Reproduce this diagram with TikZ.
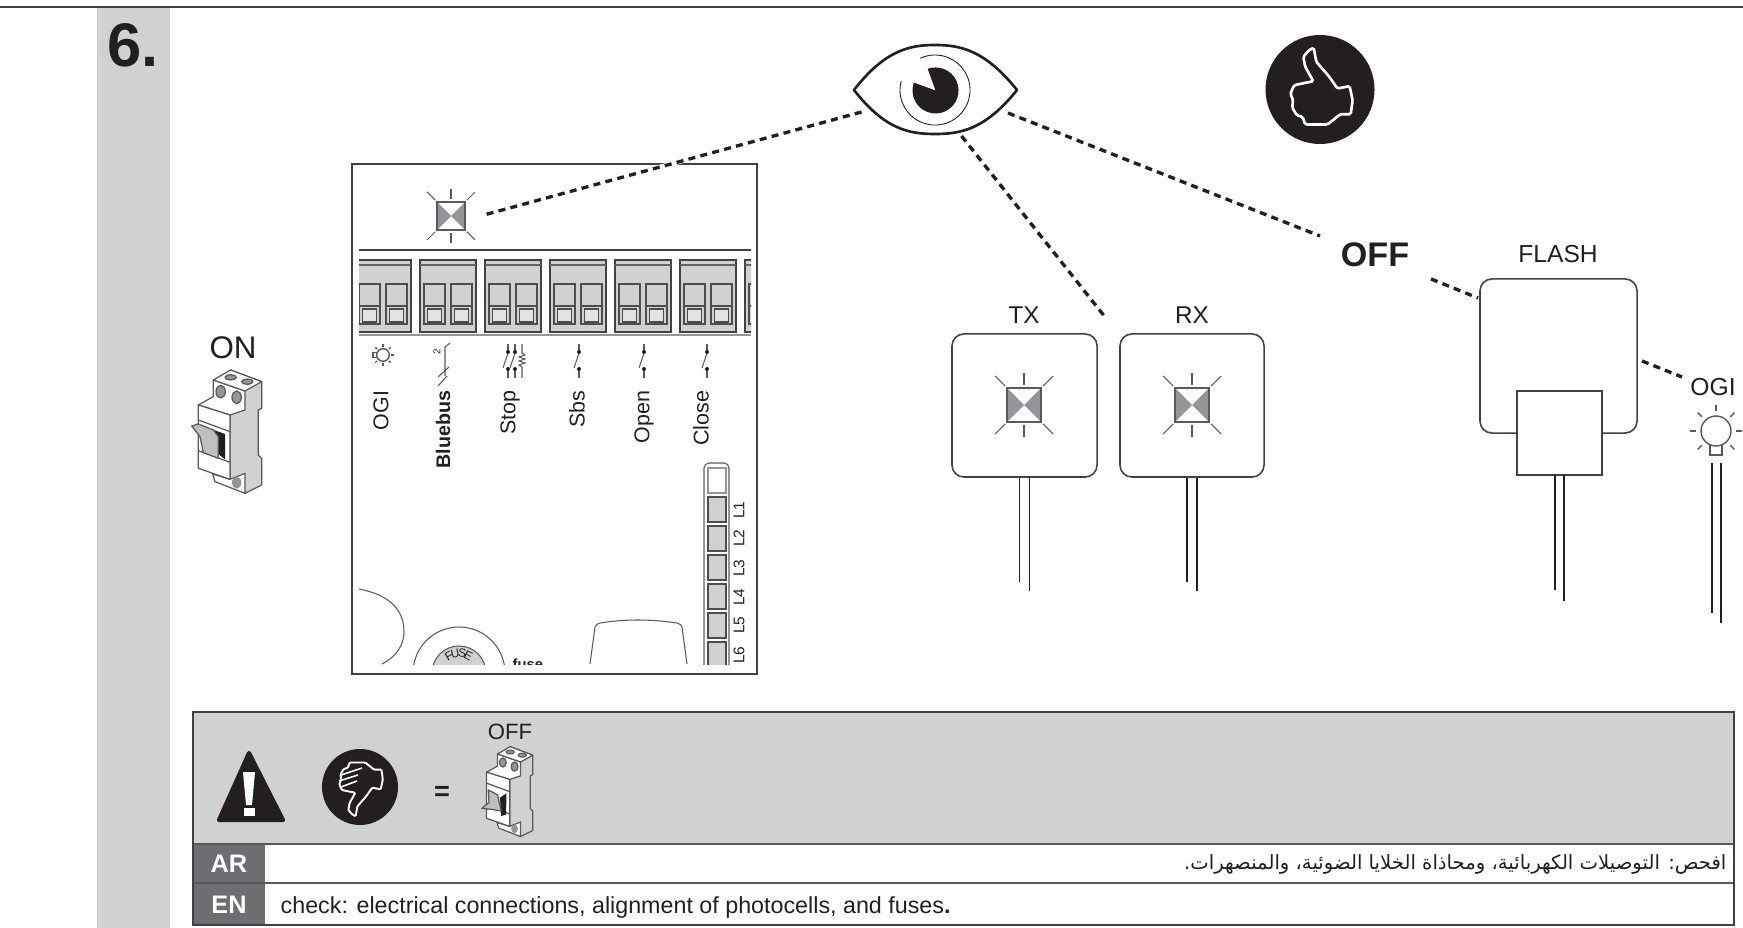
\documentclass[tikz,border=0pt]{standalone}
\usepackage{fontspec}
\usetikzlibrary{calc}
\setmainfont{Liberation Sans}
\newfontfamily\arabicfont[Script=Arabic]{DejaVu Sans}
\TeXXeTstate=1
\definecolor{inkblack}{HTML}{231F20}
\definecolor{panelgrey}{HTML}{D0D1D3}
\definecolor{ledgrey}{HTML}{939598}
\definecolor{cellgrey}{HTML}{6D6E71}
\definecolor{edgegrey}{HTML}{58595B}
\tikzset{
  seeline/.style = {color = inkblack, line width = 0.95pt, dash pattern = on 2pt off 1.5pt},
  devbox/.style = {draw = inkblack!85, line width = 0.45pt, fill = white, rounded corners = 0.12cm},
  wire/.style = {color = inkblack, line width = 0.5pt},
  thin line/.style = {draw = edgegrey, line width = 0.3pt},
  label/.style = {color = inkblack, inner sep = 0pt, font = \fontsize{7}{8}\selectfont},
  boardlabel/.style = {color = inkblack, inner sep = 0pt, rotate = 90, anchor = east, font = \fontsize{6.1}{7}\selectfont},
  ledlabel/.style = {color = inkblack, inner sep = 0pt, rotate = 90, font = \fontsize{4.4}{5}\selectfont},
  cell/.style = {color = white, inner sep = 0pt, font = \bfseries\fontsize{7.2}{8}\selectfont}
}
% blinking led, local size 34
\newcommand{\ledmark}[3]{
  \begin{scope}[shift = {(#1, #2)}, scale = #3]
    \fill[ledgrey] (-17, -17) -- (0, 0) -- (-17, 17) -- cycle;
    \fill[ledgrey] (17, -17) -- (0, 0) -- (17, 17) -- cycle;
    \draw[draw = edgegrey, line width = 0.4pt] (-17, -17) rectangle (17, 17);
    \draw[thin line] (0, -20) -- (0, -32);
    \draw[thin line] (0, 20) -- (0, 32);
    \foreach \sx/\sy in {1/1, 1/-1, -1/1, -1/-1} {
      \draw[thin line] (19*\sx, 19*\sy) -- (29*\sx, 29*\sy);
    }
  \end{scope}
}
% lamp symbol
\newcommand{\lampmark}[4]{
  \begin{scope}[shift = {(#1, #2)}, scale = #3, rotate = #4]
    \draw[draw = edgegrey, line width = 0.4pt] (0, 0) circle [radius = 15];
    \draw[draw = edgegrey, line width = 0.4pt] (-6, 14) -- (-6, 24) -- (6, 24) -- (6, 14);
    \foreach \a in {0, 45, 90, 135, 180, -45, 225} {
      \draw[draw = edgegrey, line width = 0.4pt] (\a + 180:20) -- (\a + 180:26);
    }
  \end{scope}
}
% terminal block
\newcommand{\terminal}[1]{
  \begin{scope}[shift = {(#1, 260)}]
    \draw[fill = panelgrey, draw = inkblack!85, line width = 0.45pt] (0, 0) rectangle (56, 72);
    \draw[draw = inkblack!70, line width = 0.3pt] (0, 5) -- (56, 5);
    \foreach \u in {4, 31} {
      \draw[draw = inkblack!80, line width = 0.3pt] (\u, 24) rectangle (\u + 21, 64);
      \draw[draw = inkblack!80, line width = 0.3pt] (\u, 46) -- (\u + 21, 46);
      \draw[draw = inkblack!80, line width = 0.3pt, fill = panelgrey!60] (\u + 3.5, 49) rectangle (\u + 17.5, 62);
    }
  \end{scope}
}
% open switch symbol on board
\newcommand{\switchmark}[1]{
  \draw[thin line] (#1, 344) -- (#1, 352);
  \draw[thin line] (#1, 369) -- (#1, 378);
  \draw[thin line] (#1, 353) -- (#1 - 5, 368);
  \fill[inkblack] (#1, 352) circle [radius = 2];
  \fill[inkblack] (#1, 369) circle [radius = 2];
}
% hand
\newcommand{\handpath}{(-6.3, -41.7) -- (-3.7, -27.7) -- (9.3, -12.7) -- (17.4, -1) -- (29.6, -3.3) -- (32.6, 10.7) -- (30.7, 24.7) -- (20.4, 24.7) -- (7.4, 35) -- (-14.8, 35) -- (-17.4, 27.3) -- (-23.3, 25.7) -- (-27.8, 18) -- (-27, 10.7) -- (-29.6, 4) -- (-25.9, -4.3) -- (-6.7, -8.3) -- (-14.8, -22.7) -- (-16.7, -32.7) -- (-11, -39.3) -- cycle}
% breaker: x, y, scale, handle
\newcommand{\breaker}[4]{
  \begin{scope}[shift = {(#1, #2)}, scale = #3, draw = edgegrey, line width = 0.35pt, line join = round]
    \draw[fill = panelgrey] (122, 120) -- (215, 155) -- (215, 235) -- (205, 240) -- (205, 375) -- (215, 385) -- (215, 465) -- (165, 490) -- (120, 450) -- (120, 255) -- cycle;
    \draw[fill = white] (68, 432) -- (120, 448) -- (165, 430) -- (165, 490) -- (75, 455) -- cycle;
    \fill[ledgrey] (140, 458) circle [x radius = 14, y radius = 18];
    \draw[fill = white] (70, 150) -- (165, 183) -- (165, 240) -- (120, 255) -- (25, 225) -- (70, 200) -- cycle;
    \draw[fill = white] (70, 150) -- (122, 120) -- (215, 155) -- (165, 183) -- cycle;
    \draw[fill = ledgrey] (92, 185) circle [x radius = 14, y radius = 19];
    \draw[fill = ledgrey] (140, 202) circle [x radius = 14, y radius = 19];
    \draw[fill = ledgrey] (122, 142) circle [x radius = 17, y radius = 8];
    \draw[fill = ledgrey] (172, 155) circle [x radius = 17, y radius = 8];
    \draw[fill = white] (25, 225) -- (120, 255) -- (120, 448) -- (25, 415) -- cycle;
    \draw (25, 270) -- (120, 305);
    \draw (25, 362) -- (120, 397);
    #4
  \end{scope}
}

\begin{document}
\begin{tikzpicture}[x = 0.01cm, y = -0.01cm]
\useasboundingbox (0, 0) rectangle (1743, 928);
\fill[panelgrey] (97, 8) rectangle (170, 928);
\draw[draw = inkblack!85, line width = 0.45pt] (0, 7) -- (1743, 7);
\node[label, font = \bfseries\fontsize{17.5}{18}\selectfont] (stepno) at (133, 45) {6.};

% breaker
\node[label, font = \fontsize{8.9}{9}\selectfont] (onlabel) at (233, 348) {ON};
\breaker{190}{330}{0.3333}{
  \fill[inkblack] (65, 298) -- (105, 312) -- (105, 388) -- (85, 372) -- cycle;
  \draw[fill = ledgrey!60] (5, 288) -- (25, 282) -- (70, 300) -- (85, 320) -- (85, 385) -- (40, 368) -- (30, 320) -- cycle;
}

% board
\node[draw = inkblack!85, line width = 0.55pt, minimum width = 4.04cm, minimum height = 5.1cm, inner sep = 0pt] (board) at (554.5, 419) {};
\begin{scope}
\clip (359, 165) rectangle (751, 664);
\draw[draw = inkblack!85, line width = 0.4pt] (359, 250) -- (751, 250);
\foreach \n in {0, ..., 6} {
  \terminal{355 + 65*\n}
}
\draw[draw = ledgrey, line width = 0.5pt] (359, 335) -- (751, 335);
\draw[thin line] (359, 589) .. controls (390, 595) and (404, 610) .. (404, 632) .. controls (404, 645) and (396, 657) .. (382, 664);
\draw[thin line] (459, 673) circle [radius = 46];
\draw[thin line, fill = panelgrey] (459, 673) circle [radius = 27];
\draw[thin line] (590, 664) -- (595, 627) .. controls (596, 624) and (598, 624) .. (600, 623) .. controls (625, 619) and (650, 619) .. (677, 623) .. controls (680, 624) and (682, 625) .. (682, 627) -- (687, 664);
\draw[thin line, rounded corners = 0.05cm] (704, 680) -- (704, 463) -- (729, 463) -- (729, 680);
\draw[draw = ledgrey, line width = 0.35pt] (708, 468) rectangle (726, 493);
\foreach \n in {0, ..., 5} {
  \draw[fill = panelgrey, draw = inkblack!80, line width = 0.35pt] (708, 497 + 29*\n) rectangle (726, 522 + 29*\n);
}
\node[label, font = \bfseries\fontsize{4.2}{5}\selectfont, anchor = base west] (fuselabel) at (512, 669) {fuse};
\foreach \ch/\ang in {F/120, U/101, S/81, E/62} {
  \node[label, font = \fontsize{3.4}{4}\selectfont, rotate = \ang - 90] (fuse\ch) at ($(459, 673) + (-\ang:20)$) {\ch};
}
\foreach \n/\ypos in {1/510, 2/538, 3/568, 4/597, 5/625, 6/655} {
  \node[ledlabel] (ledl\n) at (739, \ypos) {L\n};
}
\end{scope}
\ledmark{451}{216}{0.83}
\node[inner sep = 0pt, minimum size = 0.29cm] (boardled) at (451, 216) {};

% symbols over the labels
\lampmark{383}{355}{0.42}{-90}
\draw[thin line] (450, 343) -- (445, 347) -- (445, 376);
\draw[thin line] (449, 367) -- (438, 377);
\draw[thin line] (447, 376) -- (438, 386);
\node[label, font = \fontsize{2.8}{3}\selectfont, rotate = 90] (bluetwo) at (437, 352) {2};
\foreach \u in {508, 515} {
  \switchmark{\u}
}
\draw[thin line] (522, 344) -- (522, 353) -- (525, 355) -- (519, 357) -- (525, 359) -- (519, 361) -- (525, 363) -- (519, 365) -- (522, 367) -- (522, 378);
\switchmark{579}
\switchmark{644}
\switchmark{707}
\node[boardlabel] (ogitext) at (381, 390) {OGI};
\node[boardlabel, font = \bfseries\fontsize{5.6}{6}\selectfont] (bluebus) at (443, 390) {Bluebus};
\node[boardlabel] (stop) at (510, 390) {Stop};
\node[boardlabel] (sbs) at (577, 390) {Sbs};
\node[boardlabel] (open) at (644, 390) {Open};
\node[boardlabel] (close) at (701, 390) {Close};

% eye
\draw[color = inkblack, line width = 0.75pt, line join = round] (854, 90) .. controls (885, 50) and (910, 45) .. (935, 45) .. controls (960, 45) and (985, 50) .. (1017, 90) .. controls (985, 130) and (960, 134) .. (935, 134) .. controls (910, 134) and (885, 130) .. (854, 90) -- cycle;
\draw[color = inkblack, line width = 0.25pt] (920.2, 58.3) arc [start angle = 115, end angle = -195, radius = 0.35cm];
\fill[inkblack] (935.5, 90.5) -- (913.9, 82.6) arc [start angle = 160, end angle = 470, radius = 0.23cm] -- cycle;
\node[inner sep = 0pt, minimum width = 1.63cm, minimum height = 0.89cm] (eye) at (935.5, 90) {};
\coordinate (eyeleft) at (861.5, 112);
\coordinate (eyemid) at (961.5, 136);
\coordinate (eyeright) at (1008, 113);

% thumb
\fill[inkblack] (1320, 89.5) circle [radius = 54.5];
\draw[white, line width = 0.75pt, rounded corners = 0.015cm, shift = {(1320, 89.5)}] \handpath;

% photocells
\node[devbox, minimum width = 1.45cm, minimum height = 1.43cm, inner sep = 0pt] (tx) at (1024.5, 405.5) {};
\node[devbox, minimum width = 1.44cm, minimum height = 1.43cm, inner sep = 0pt] (rx) at (1192, 405.5) {};
\node[label, font = \fontsize{6.9}{8}\selectfont] (txlabel) at (1024, 315) {TX};
\node[label, font = \fontsize{6.9}{8}\selectfont] (rxlabel) at (1192, 315) {RX};
\ledmark{1024}{405}{1}
\ledmark{1192}{405}{1}
\draw[wire] ([xshift = -0.05cm]tx.south) -- ++(0, 104);
\draw[wire] ([xshift = 0.05cm]tx.south) -- ++(0, 113);
\draw[wire] ([xshift = -0.05cm]rx.south) -- ++(0, 104);
\draw[wire] ([xshift = 0.05cm]rx.south) -- ++(0, 113);

% flash
\node[label] (flashlabel) at (1558, 254) {FLASH};
\node[devbox, minimum width = 1.57cm, minimum height = 1.54cm, inner sep = 0pt] (flash) at (1558.5, 356) {};
\node[draw = inkblack!85, fill = white, line width = 0.45pt, minimum width = 0.85cm, minimum height = 0.84cm, inner sep = 0pt] (flashbase) at (1559.5, 433) {};
\draw[wire] (1555, 475) -- (1555, 590);
\draw[wire] (1564, 475) -- (1564, 601);
\node[label, font = \bfseries\fontsize{9.7}{10}\selectfont] (offtext) at (1375, 255) {OFF};
\node[label] (ogilabel) at (1713, 387) {OGI};
\lampmark{1716}{431}{1}{0}
\draw[wire] (1712, 463) -- (1712, 613);
\draw[wire] (1721, 463) -- (1721, 623);

% seen lines
\coordinate (ledend) at (484, 215);
\coordinate (txend) at (1105, 317);
\coordinate (offin) at (1320, 236);
\coordinate (offout) at (1431, 279);
\coordinate (flashin) at (1478, 298);
\coordinate (flashout) at (1642, 361);
\coordinate (ogiin) at (1682, 377);
\draw[white, line width = 1.3pt] (652, 169.2) -- (690, 158.8);
\draw[seeline] (eyeleft) -- (ledend);
\draw[seeline] (eyemid) -- (txend);
\draw[seeline] (eyeright) -- (offin);
\draw[seeline] (offout) -- (flashin);
\draw[seeline] (flashout) -- (ogiin);

% warning panel
\fill[panelgrey] (193, 712) rectangle (1734, 844);
\fill[cellgrey] (193, 844) rectangle (265, 925);
\draw[draw = edgegrey, line width = 0.4pt] (193, 844) -- (1734, 844);
\draw[draw = edgegrey, line width = 0.35pt] (193, 883) -- (1734, 883);
\draw[draw = inkblack!85, line width = 0.45pt] (193, 712) rectangle (1734, 925);
\node[cell] (ar) at (229, 863.5) {AR};
\node[cell] (en) at (229, 905) {EN};
\node[inner sep = 0pt, anchor = east, color = inkblack, font = \fontsize{5.58}{6}\selectfont] (artext) at (1727, 864) {\arabicfont\beginR افحص: التوصيلات الكهربائية، ومحاذاة الخلايا الضوئية، والمنصهرات.\endR};
\node[inner sep = 0pt, anchor = west, color = inkblack, font = \fontsize{6.62}{7}\selectfont] (entext) at (280, 907) {check: electrical connections, alignment of photocells, and fuses{\bfseries .}};

% warning sign
\draw[fill = inkblack, draw = inkblack, line width = 1.2pt, line join = round] (249, 753) -- (283, 820) -- (219, 820) -- cycle;
\fill[white] (243, 772) -- (255, 772) -- (252, 805) -- (246, 805) -- cycle;
\fill[white] (243.5, 807.5) rectangle (254.5, 816);
\fill[inkblack] (360, 787) circle [radius = 38];
\draw[white, line width = 0.55pt, rounded corners = 0.01cm, shift = {(360, 787)}, xscale = 0.7, yscale = -0.7] \handpath;
\begin{scope}[shift = {(360, 787)}]
\draw[white, line width = 0.45pt] (-19, -12) -- (2, -19);
\draw[white, line width = 0.45pt] (-21, -6) -- (-2, -12);
\draw[white, line width = 0.45pt] (-19, 0) -- (-3, -6);
\end{scope}
\node[label, font = \bfseries\fontsize{7.7}{8}\selectfont] (equal) at (442, 793) {=};
\node[label, font = \fontsize{6.3}{7}\selectfont] (offsmall) at (510, 732) {OFF};
\breaker{480.5}{717.5}{0.243}{
  \fill[inkblack] (80, 330) -- (107, 312) -- (105, 400) -- (85, 405) -- cycle;
  \draw[fill = ledgrey!60] (32, 298) -- (70, 318) -- (85, 385) -- (45, 378) -- (5, 374) -- (35, 350) -- cycle;
}
\end{tikzpicture}
\end{document}
